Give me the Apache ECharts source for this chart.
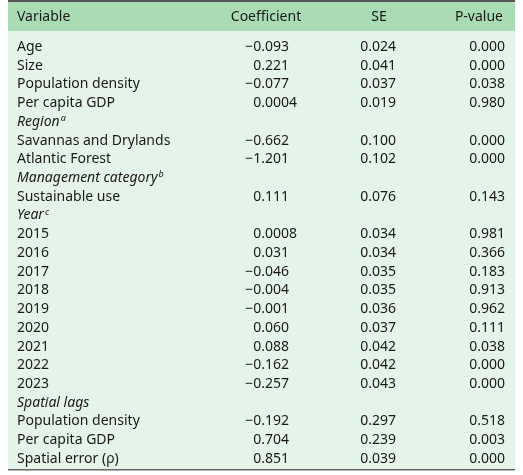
<!DOCTYPE html>
<html><head><meta charset="utf-8">
<script src="https://cdn.jsdelivr.net/npm/echarts@6/dist/echarts.min.js"></script>
<style>html,body{margin:0;background:#fff}#c{width:523px;height:475px}</style>
</head><body><div id="c"></div>
<script>
var headers = ['Variable', 'Coefficient', 'SE', 'P-value'];
var labels = ['Age', 'Size', 'Population density', 'Per capita GDP', 'Region|a',
  'Savannas and Drylands', 'Atlantic Forest', 'Management category|b', 'Sustainable use', 'Year|c',
  '2015', '2016', '2017', '2018', '2019', '2020', '2021', '2022', '2023', 'Spatial lags',
  'Population density', 'Per capita GDP', 'Spatial error (ρ)'];
var isHeading = [0,0,0,0,1,0,0,1,0,1,0,0,0,0,0,0,0,0,0,1,0,0,0];
var coef = ['−0.093','0.221','−0.077','0.0004','','−0.662','−1.201','','0.111','',
  '0.0008','0.031','−0.046','−0.004','−0.001','0.060','0.088','−0.162','−0.257','',
  '−0.192','0.704','0.851'];
var se = ['0.024','0.041','0.037','0.019','','0.100','0.102','','0.076','',
  '0.034','0.034','0.035','0.035','0.036','0.037','0.042','0.042','0.043','',
  '0.297','0.239','0.039'];
var pval = ['0.000','0.000','0.038','0.980','','0.000','0.000','','0.143','',
  '0.981','0.366','0.183','0.913','0.962','0.111','0.038','0.000','0.000','',
  '0.518','0.003','0.000'];

var FONT = '"Noto Sans", "Open Sans", sans-serif';
var FS = 14;
var el = [];
el.push({type:'rect', shape:{x:8,y:31,width:507,height:439}, style:{fill:'#e5f4e8'}});
el.push({type:'rect', shape:{x:8,y:2,width:507,height:29}, style:{fill:'#a9dcb5'}});
el.push({type:'rect', shape:{x:8,y:0,width:507,height:2}, style:{fill:'#555'}});
el.push({type:'rect', shape:{x:8,y:469,width:507,height:1.5}, style:{fill:'#666'}});

function txt(x, y, s, align) {
  el.push({type:'text', style:{x:x, y:y, text:s, fill:'#1a1a1a', font:FS + 'px ' + FONT,
    align:align, verticalAlign:'middle'}});
}
var hx = [17, 266, 379, 503];
txt(hx[0], 17, headers[0], 'left');
txt(hx[1], 17, headers[1], 'center');
txt(hx[2], 17, headers[2], 'center');
txt(hx[3], 17, headers[3], 'right');

function num(dx, y, s) {
  if (!s) return;
  var p = s.split('.');
  txt(dx, y, p[0] + '.', 'right');
  txt(dx, y, p[1], 'left');
}
var y0 = 47, dy = 18.72;
labels.forEach(function (lab, i) {
  var y = y0 + i * dy;
  if (isHeading[i]) {
    var p = lab.split('|');
    el.push({type:'text', style:{x:hx[0], y:y, verticalAlign:'middle', align:'left',
      text: p[1] ? '{m|' + p[0] + '}{s|' + p[1] + '}' : '{m|' + p[0] + '}',
      rich:{m:{font:'italic ' + FS + 'px ' + FONT, fill:'#1a1a1a'},
            s:{font:'italic 9px ' + FONT, fill:'#1a1a1a', verticalAlign:'top', padding:[0,0,7,1]}}}});
  } else {
    txt(hx[0], y, lab, 'left');
  }
  num(265, y, coef[i]);
  num(372, y, se[i]);
  num(481, y, pval[i]);
});

var chart = echarts.init(document.getElementById('c'), null, {renderer:'canvas'});
chart.setOption({animation:false, graphic:{elements:el}});
</script></body></html>
